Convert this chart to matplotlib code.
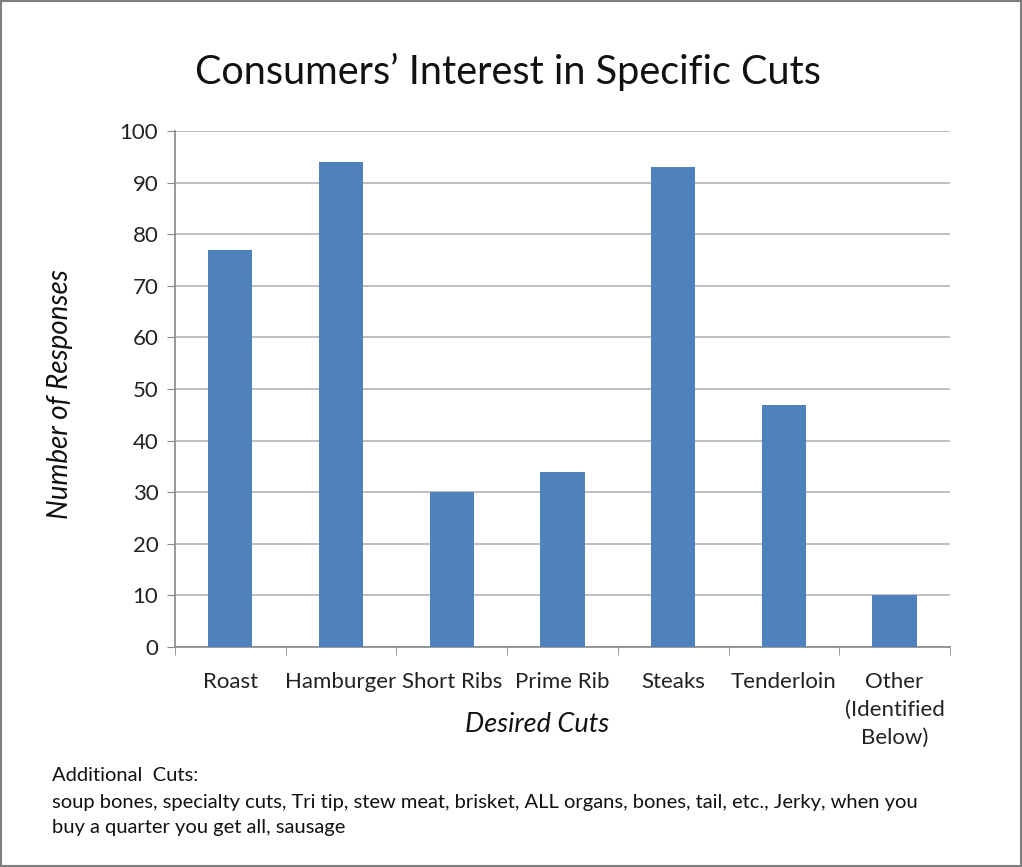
import matplotlib
matplotlib.use("Agg")
import matplotlib.pyplot as plt
from matplotlib.patches import Rectangle
from matplotlib.ticker import FixedLocator, NullFormatter
import numpy as np

categories = ["Roast", "Hamburger", "Short Ribs", "Prime Rib", "Steaks",
              "Tenderloin", "Other\n(Identified\nBelow)"]
responses = [77, 94, 30, 34, 93, 47, 10]
y_ticks = [0, 10, 20, 30, 40, 50, 60, 70, 80, 90, 100]

title = "Consumers\u2019 Interest in Specific Cuts"
note_head = "Additional  Cuts:"
note_body = ("soup bones, specialty cuts, Tri tip, stew meat, brisket, ALL organs, bones, tail, etc., Jerky, when you\n"
             "buy a quarter you get all, sausage")

plt.rcParams["font.family"] = ["Lato", "DejaVu Sans"]

fig = plt.figure(figsize=(10.22, 8.67), dpi=100)
ax = fig.add_axes([0.1712, 0.2537, 0.7583, 0.5952])

x = np.arange(len(categories))
ax.bar(x, responses, width=0.4, color="#4f81bd", zorder=3)

ax.set_xlim(-0.5, len(categories) - 0.5)
ax.set_ylim(0, 100)
ax.set_yticks(y_ticks)
ax.tick_params(axis="y", labelsize=16, length=6, color="#888888", pad=6, labelcolor="#222222")
ax.grid(axis="y", color="#b3b3b3", linewidth=1.2, zorder=0)

# category labels centred, tick marks on category boundaries
ax.set_xticks(x)
ax.set_xticklabels(categories, fontsize=16, color="#222222", linespacing=1.5, va="top")
ax.tick_params(axis="x", which="major", length=0, pad=18)
ax.xaxis.set_minor_locator(FixedLocator(np.arange(-0.5, len(categories), 1.0)))
ax.xaxis.set_minor_formatter(NullFormatter())
ax.tick_params(axis="x", which="minor", length=6, color="#888888")

for side in ("top", "right"):
    ax.spines[side].set_visible(False)
for side in ("left", "bottom"):
    ax.spines[side].set_color("#888888")
    ax.spines[side].set_linewidth(1.2)

ax.set_ylabel("Number of Responses", fontsize=20, style="italic", color="#111111")
ax.yaxis.set_label_coords(-0.132, 0.49)
ax.set_xlabel("Desired Cuts", fontsize=19.5, style="italic", color="#111111")
ax.xaxis.set_label_coords(0.467, -0.125)

fig.text(0.497, 0.917, title, fontsize=28.5, ha="center", va="center", color="#111111")
fig.text(0.051, 0.106, note_head, fontsize=14.5, ha="left", va="center", color="#111111")
fig.text(0.051, 0.060, note_body, fontsize=14.5, ha="left", va="center", color="#111111",
         linespacing=1.62)

fig.patches.append(Rectangle((0.001, 0.001), 0.998, 0.998, transform=fig.transFigure,
                             fill=False, edgecolor="#7f7f7f", linewidth=1.5))

fig.savefig("out.png", dpi=100)
